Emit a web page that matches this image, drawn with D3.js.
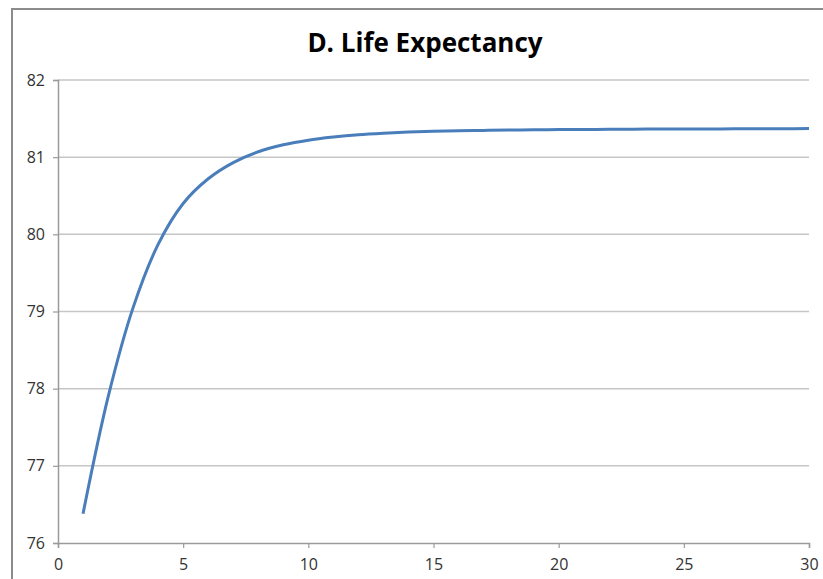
<!DOCTYPE html>
<html>
<head>
<meta charset="utf-8">
<script src="https://cdn.jsdelivr.net/npm/d3@7"></script>
<style>
  body { margin: 0; background: #fff; }
  svg { display: block; }
</style>
</head>
<body>
<svg id="chart" width="823" height="579"></svg>
<script>
// years since start
var years = [1, 2, 3, 4, 5, 6, 7, 8, 9, 10, 11, 12, 13, 14, 15,
             16, 17, 18, 19, 20, 21, 22, 23, 24, 25, 26, 27, 28, 29, 30];
// life expectancy
var lifeExp = [76.38, 77.89, 79.05, 79.87, 80.40, 80.72, 80.93, 81.07, 81.16, 81.22,
               81.26, 81.29, 81.31, 81.325, 81.335, 81.342, 81.347, 81.351, 81.354, 81.357,
               81.359, 81.361, 81.363, 81.364, 81.365, 81.366, 81.367, 81.368, 81.369, 81.37];
var xTicks = [0, 5, 10, 15, 20, 25, 30];
var yTicks = [76, 77, 78, 79, 80, 81, 82];

drawChart();

function drawChart(){
    var svg = d3.select("#chart");

    var plotLeft = 58, plotRight = 809, plotTop = 80, plotBottom = 543;

    var x = d3.scaleLinear().domain([0, 30]).range([plotLeft, plotRight]);
    var y = d3.scaleLinear().domain([76, 82]).range([plotBottom, plotTop]);

    // outer chart frame
    svg.append("rect")
        .attr("x", 12).attr("y", 9)
        .attr("width", 830).attr("height", 600)
        .attr("fill", "#fff")
        .attr("stroke", "#8c8c8c")
        .attr("stroke-width", 2);

    svg.append("text")
        .attr("x", 425).attr("y", 52)
        .attr("text-anchor", "middle")
        .style("font-family", "'Open Sans', sans-serif")
        .style("font-weight", "bold")
        .style("font-size", "26px")
        .style("fill", "#000")
        .text("D. Life Expectancy");

    // gridlines
    svg.append("g")
        .selectAll("line")
        .data(yTicks.filter(function(d){ return d > 76; }))
        .enter().append("line")
        .attr("x1", plotLeft).attr("x2", plotRight)
        .attr("y1", function(d){ return y(d); })
        .attr("y2", function(d){ return y(d); })
        .attr("stroke", "#c6c6c6")
        .attr("stroke-width", 1.5);

    var yAxis = svg.append("g")
        .attr("transform", "translate(" + plotLeft + ",0)")
        .call(d3.axisLeft(y).tickValues(yTicks).tickSize(5).tickPadding(8).tickFormat(d3.format("d")));

    var xAxis = svg.append("g")
        .attr("transform", "translate(0," + plotBottom + ")")
        .call(d3.axisBottom(x).tickValues(xTicks).tickSize(5).tickPadding(11).tickFormat(d3.format("d")));

    [yAxis, xAxis].forEach(function(a){
        a.select(".domain").attr("stroke", "#9a9a9a").attr("stroke-width", 1.5);
        a.selectAll(".tick line").attr("stroke", "#9a9a9a").attr("stroke-width", 1.2);
        a.selectAll("text")
            .style("font-family", "'Open Sans', sans-serif")
            .style("font-size", "16px")
            .style("fill", "#333");
    });

    var line = d3.line()
        .x(function(d, i){ return x(years[i]); })
        .y(function(d){ return y(d); })
        .curve(d3.curveCatmullRom.alpha(0.5));

    svg.append("path")
        .datum(lifeExp)
        .attr("d", line)
        .attr("fill", "none")
        .attr("stroke", "#4a7ebb")
        .attr("stroke-width", 3);
}
</script>
</body>
</html>
